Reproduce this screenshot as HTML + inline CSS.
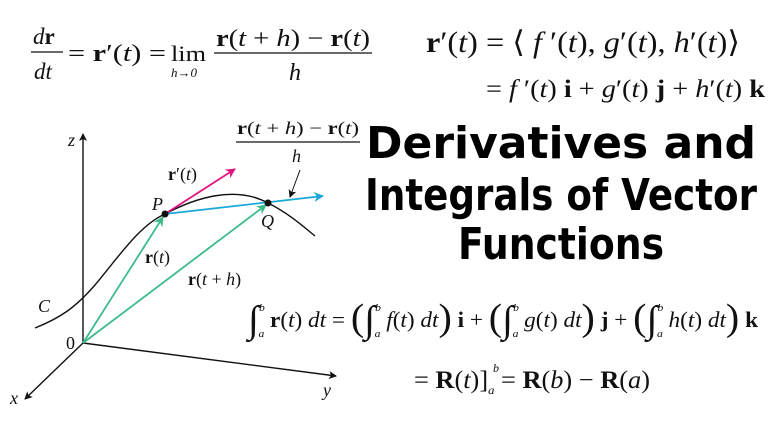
<!DOCTYPE html>
<html><head><meta charset="utf-8"><style>
html,body{margin:0;padding:0;background:#fff}
svg{display:block}
.m{font-family:"Liberation Serif",serif;fill:#111}
.t{font-family:"DejaVu Sans","Liberation Sans",sans-serif;font-weight:bold;fill:#000}
</style></head><body>
<svg width="768" height="432" viewBox="0 0 768 432" xmlns="http://www.w3.org/2000/svg">
<defs>
<marker id="ak" markerWidth="8" markerHeight="8" refX="7" refY="4" orient="auto" markerUnits="userSpaceOnUse"><path d="M0,0 L8,4 L0,8 L2,4z" fill="#111"/></marker>
<marker id="ag" markerWidth="10" markerHeight="10" refX="9" refY="5" orient="auto" markerUnits="userSpaceOnUse"><path d="M0,0 L10,5 L0,10 L3,5z" fill="#3dbb8a"/></marker>
<marker id="am" markerWidth="10" markerHeight="10" refX="9" refY="5" orient="auto" markerUnits="userSpaceOnUse"><path d="M0,0 L10,5 L0,10 L3,5z" fill="#e0157f"/></marker>
<marker id="ac" markerWidth="10" markerHeight="10" refX="9" refY="5" orient="auto" markerUnits="userSpaceOnUse"><path d="M0,0 L10,5 L0,10 L3,5z" fill="#1aa8d8"/></marker>
</defs>
<!-- formula 1 -->
<g class="m">
<text x="33" y="44" font-size="23"><tspan font-style="italic">d</tspan><tspan font-weight="bold">r</tspan></text>
<line x1="31" y1="52" x2="63" y2="52" stroke="#111" stroke-width="1.3"/>
<text x="34" y="79" font-size="23" font-style="italic">dt</text>
<text x="68" y="61" font-size="24" textLength="98" lengthAdjust="spacingAndGlyphs">= <tspan font-weight="bold">r</tspan>′(<tspan font-style="italic">t</tspan>) = </text>
<text x="171" y="61" font-size="22" textLength="35" lengthAdjust="spacingAndGlyphs">lim</text>
<text x="171" y="77" font-size="13" font-style="italic">h→0</text>
<text x="216" y="46" font-size="24" textLength="154" lengthAdjust="spacingAndGlyphs"><tspan font-weight="bold">r</tspan>(<tspan font-style="italic">t</tspan> + <tspan font-style="italic">h</tspan>) − <tspan font-weight="bold">r</tspan>(<tspan font-style="italic">t</tspan>)</text>
<line x1="214" y1="53" x2="372" y2="53" stroke="#111" stroke-width="1.3"/>
<text x="289" y="80" font-size="24" font-style="italic">h</text>
</g>
<!-- formula 2 -->
<g class="m">
<text x="426" y="52" font-size="30" textLength="314" lengthAdjust="spacingAndGlyphs"><tspan font-weight="bold">r</tspan>′(<tspan font-style="italic">t</tspan>) = ⟨ <tspan font-style="italic">f</tspan> ′(<tspan font-style="italic">t</tspan>), <tspan font-style="italic">g</tspan>′(<tspan font-style="italic">t</tspan>), <tspan font-style="italic">h</tspan>′(<tspan font-style="italic">t</tspan>)⟩</text>
<text x="486" y="97" font-size="25" textLength="279" lengthAdjust="spacingAndGlyphs">= <tspan font-style="italic">f</tspan> ′(<tspan font-style="italic">t</tspan>) <tspan font-weight="bold">i</tspan> + <tspan font-style="italic">g</tspan>′(<tspan font-style="italic">t</tspan>) <tspan font-weight="bold">j</tspan> + <tspan font-style="italic">h</tspan>′(<tspan font-style="italic">t</tspan>) <tspan font-weight="bold">k</tspan></text>
</g>
<!-- title -->
<g class="t" text-anchor="middle" font-size="44">
<text x="561" y="158" textLength="390" lengthAdjust="spacingAndGlyphs">Derivatives and</text>
<text x="561" y="210" textLength="392" lengthAdjust="spacingAndGlyphs">Integrals of Vector</text>
<text x="561" y="259" textLength="206" lengthAdjust="spacingAndGlyphs">Functions</text>
</g>
<!-- diagram -->
<g fill="none" stroke-width="1.4">
<line x1="83" y1="343" x2="83" y2="134" stroke="#111" marker-end="url(#ak)"/>
<line x1="83" y1="343" x2="336" y2="376" stroke="#111" marker-end="url(#ak)"/>
<line x1="83" y1="343" x2="25" y2="399" stroke="#111" marker-end="url(#ak)"/>
<path d="M35,328 C60,318 75,308 95,285 C120,255 140,225 165,214 C195,198 235,185 268,203 C290,214 305,228 315,236" stroke="#111"/>
<line x1="83" y1="343" x2="163" y2="217" stroke="#3dbb8a" stroke-width="1.8" marker-end="url(#ag)"/>
<line x1="83" y1="343" x2="266" y2="205" stroke="#3dbb8a" stroke-width="1.8" marker-end="url(#ag)"/>
<line x1="165" y1="214" x2="235" y2="169" stroke="#e0157f" stroke-width="1.8" marker-end="url(#am)"/>
<line x1="165" y1="214" x2="323" y2="196" stroke="#1aa8d8" stroke-width="1.8" marker-end="url(#ac)"/>
<line x1="300" y1="170" x2="290" y2="197" stroke="#111" stroke-width="1" marker-end="url(#ak)"/>
</g>
<circle cx="165" cy="214" r="3.5" fill="#111"/>
<circle cx="268" cy="203" r="3.5" fill="#111"/>
<g class="m" font-size="18">
<text x="68" y="146" font-style="italic">z</text>
<text x="10" y="404" font-style="italic">x</text>
<text x="323" y="396" font-style="italic">y</text>
<text x="66" y="349">0</text>
<text x="38" y="312" font-style="italic">C</text>
<text x="152" y="210" font-style="italic">P</text>
<text x="261" y="227" font-style="italic">Q</text>
<text x="145" y="263"><tspan font-weight="bold">r</tspan>(<tspan font-style="italic">t</tspan>)</text>
<text x="188" y="285"><tspan font-weight="bold">r</tspan>(<tspan font-style="italic">t</tspan> + <tspan font-style="italic">h</tspan>)</text>
<text x="168" y="180"><tspan font-weight="bold">r</tspan>′(<tspan font-style="italic">t</tspan>)</text>
<text x="237" y="134" textLength="122" lengthAdjust="spacingAndGlyphs"><tspan font-weight="bold">r</tspan>(<tspan font-style="italic">t</tspan> + <tspan font-style="italic">h</tspan>) − <tspan font-weight="bold">r</tspan>(<tspan font-style="italic">t</tspan>)</text>
<line x1="236" y1="142" x2="360" y2="142" stroke="#111" stroke-width="1.2"/>
<text x="292" y="162" font-style="italic">h</text>
</g>
<!-- integral -->
<g class="m">
<text x="248" y="327" font-size="22" textLength="510" lengthAdjust="spacingAndGlyphs"><tspan font-size="38" dy="5">∫</tspan><tspan dy="-21" font-size="11" font-style="italic">b</tspan><tspan dx="-6" dy="26" font-size="11" font-style="italic">a</tspan><tspan dy="-10"> </tspan><tspan font-weight="bold">r</tspan>(<tspan font-style="italic">t</tspan>) <tspan font-style="italic">dt</tspan> = <tspan font-size="38" dy="3">(</tspan><tspan dy="2" font-size="38">∫</tspan><tspan dy="-21" font-size="11" font-style="italic">b</tspan><tspan dx="-6" dy="26" font-size="11" font-style="italic">a</tspan><tspan dy="-10"> </tspan><tspan font-style="italic">f</tspan>(<tspan font-style="italic">t</tspan>) <tspan font-style="italic">dt</tspan><tspan font-size="38" dy="3">)</tspan><tspan dy="-3"> </tspan><tspan font-weight="bold">i</tspan> + <tspan font-size="38" dy="3">(</tspan><tspan dy="2" font-size="38">∫</tspan><tspan dy="-21" font-size="11" font-style="italic">b</tspan><tspan dx="-6" dy="26" font-size="11" font-style="italic">a</tspan><tspan dy="-10"> </tspan><tspan font-style="italic">g</tspan>(<tspan font-style="italic">t</tspan>) <tspan font-style="italic">dt</tspan><tspan font-size="38" dy="3">)</tspan><tspan dy="-3"> </tspan><tspan font-weight="bold">j</tspan> + <tspan font-size="38" dy="3">(</tspan><tspan dy="2" font-size="38">∫</tspan><tspan dy="-21" font-size="11" font-style="italic">b</tspan><tspan dx="-6" dy="26" font-size="11" font-style="italic">a</tspan><tspan dy="-10"> </tspan><tspan font-style="italic">h</tspan>(<tspan font-style="italic">t</tspan>) <tspan font-style="italic">dt</tspan><tspan font-size="38" dy="3">)</tspan><tspan dy="-3"> </tspan><tspan font-weight="bold">k</tspan></text>
<text x="414" y="388" font-size="25" textLength="236" lengthAdjust="spacingAndGlyphs">= <tspan font-weight="bold">R</tspan>(<tspan font-style="italic">t</tspan>)]<tspan font-size="12" dy="6" font-style="italic">a</tspan><tspan dy="-6"> </tspan>= <tspan font-weight="bold">R</tspan>(<tspan font-style="italic">b</tspan>) − <tspan font-weight="bold">R</tspan>(<tspan font-style="italic">a</tspan>)</text>
<text x="493" y="372" font-size="12" font-style="italic">b</text>
</g>
</svg>
</body></html>
